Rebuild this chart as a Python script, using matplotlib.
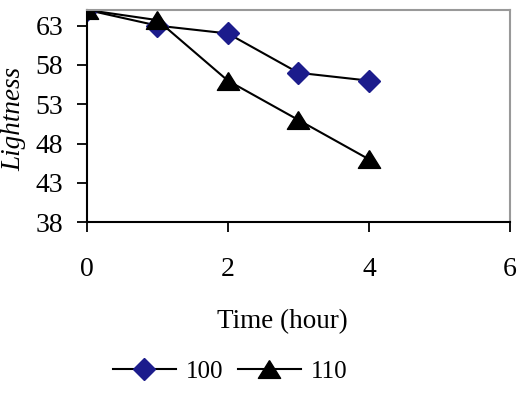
import matplotlib
matplotlib.use("Agg")
import matplotlib.pyplot as plt

# data
time_h = [0, 1, 2, 3, 4]
light_100 = [65, 63, 62, 57, 56]
light_110 = [65, 63.7, 56, 51, 46]
y_ticks = [38, 43, 48, 53, 58, 63]
x_ticks = [0, 2, 4, 6]

plt.rcParams["font.family"] = "Liberation Serif"

fig = plt.figure(figsize=(5.23, 3.96), dpi=100)
ax = fig.add_axes([0.166, 0.439, 0.809, 0.536])

# wide, flat triangle like the Excel marker
tri = [(0, 0.8), (-1, -0.8), (1, -0.8), (0, 0.8)]

ax.plot(time_h, light_100, color="black", lw=1.5, marker="D", markersize=11,
        markerfacecolor="#1c1c8c", markeredgecolor="#1c1c8c", label="100")
ax.plot(time_h, light_110, color="black", lw=1.5, marker=tri, markersize=16,
        markerfacecolor="black", markeredgecolor="black", label="110")

ax.set_xlim(0, 6)
ax.set_ylim(38, 65)
ax.set_xticks(x_ticks)
ax.set_yticks(y_ticks)
ax.tick_params(axis="both", labelsize=20, direction="out", length=7, width=1.3)
ax.tick_params(axis="x", pad=18)
ax.tick_params(axis="y", pad=10)
for s in ["top", "right"]:
    ax.spines[s].set_color("#999999")
    ax.spines[s].set_linewidth(1.5)
for s in ["left", "bottom"]:
    ax.spines[s].set_linewidth(1.5)

ax.set_ylabel("Lightness", fontsize=19.5, style="italic")
ax.yaxis.set_label_coords(0.05, 0.70, transform=fig.transFigure)
ax.set_xlabel("Time (hour)", fontsize=19.5)
ax.xaxis.set_label_coords(0.539, 0.220, transform=fig.transFigure)

ax.legend(loc="center", bbox_to_anchor=(0.44, 0.061), bbox_transform=fig.transFigure,
          ncol=2, frameon=False, fontsize=18, handlelength=2.5, columnspacing=0.6,
          handletextpad=0.4, borderpad=0)

fig.savefig("out.png", dpi=100)
